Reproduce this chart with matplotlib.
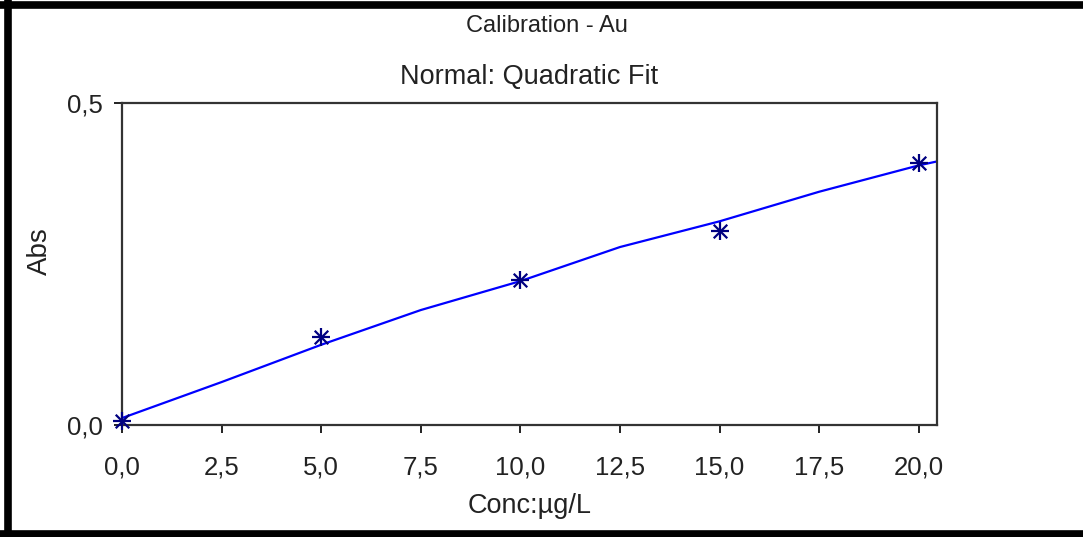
import matplotlib
matplotlib.use("Agg")
import matplotlib.pyplot as plt
from matplotlib.lines import Line2D

# Data
conc = [0.0, 5.0, 10.0, 15.0, 20.0]
absorb = [0.006, 0.136, 0.225, 0.301, 0.407]

fit_x = [0.0, 2.5, 5.0, 7.5, 10.0, 12.5, 15.0, 17.5, 20.0, 20.45]
fit_y = [0.010, 0.066, 0.124, 0.178, 0.223, 0.276, 0.316, 0.362, 0.403, 0.409]

x_ticks = [0.0, 2.5, 5.0, 7.5, 10.0, 12.5, 15.0, 17.5, 20.0]
x_tick_labels = ["0,0", "2,5", "5,0", "7,5", "10,0", "12,5", "15,0", "17,5", "20,0"]
y_ticks = [0.0, 0.5]
y_tick_labels = ["0,0", "0,5"]

FONT = "Liberation Sans"
TXT = "#222222"

fig = plt.figure(figsize=(10.83, 5.37), dpi=100)
W, H = 1083, 537
ax = fig.add_axes([122 / W, 1 - 424.5 / H, (936.7 - 122) / W, (424.5 - 103) / H])

ax.plot(fit_x, fit_y, color="#0000ff", lw=1.6, solid_capstyle="butt", zorder=2)
ax.scatter(conc, absorb, marker="+", s=150, color="#000080", linewidths=1.6, zorder=3, clip_on=False)
ax.scatter(conc, absorb, marker="x", s=95, color="#000080", linewidths=1.6, zorder=3, clip_on=False)

ax.set_xlim(0, 20.45)
ax.set_ylim(0, 0.5)
ax.set_xticks(x_ticks)
ax.set_xticklabels(x_tick_labels)
ax.set_yticks(y_ticks)
ax.set_yticklabels(y_tick_labels)

for sp in ax.spines.values():
    sp.set_color("#333333")
    sp.set_linewidth(1.6)

ax.tick_params(direction="out", length=5.5, width=1.4, colors=TXT, labelsize=18.5)
ax.tick_params(axis="x", pad=17)
ax.tick_params(axis="y", pad=8)
for lab in ax.get_xticklabels() + ax.get_yticklabels():
    lab.set_fontfamily(FONT)
    lab.set_color(TXT)

ax.set_xlabel("Conc:µg/L", fontsize=19.5, family=FONT, color=TXT)
ax.xaxis.label.set_va("center")
ax.xaxis.set_label_coords(0.5, (424.5 - 506) / 321.5)
ax.set_ylabel("Abs", fontsize=20, family=FONT, color=TXT)
ax.yaxis.label.set_va("center")
ax.yaxis.set_label_coords((40 - 122) / 814.7, (424.5 - 251) / 321.5)

fig.text(529 / W, 1 - 77 / H, "Normal: Quadratic Fit", ha="center", va="center",
         fontsize=19.5, family=FONT, color=TXT)
fig.text(546.5 / W, 1 - 26 / H, "Calibration - Au", ha="center", va="center",
         fontsize=17, family=FONT, color=TXT)

# Thick black frame (top, left, bottom)
fig.add_artist(Line2D([7.5 / W, 7.5 / W], [0, 1], transform=fig.transFigure, color="black", lw=5.5))
fig.add_artist(Line2D([0, 1], [1 - 5 / H, 1 - 5 / H], transform=fig.transFigure, color="black", lw=5.5))
fig.add_artist(Line2D([0, 1], [1 - 534 / H, 1 - 534 / H], transform=fig.transFigure, color="black", lw=5.5))

fig.savefig("out.png", dpi=100)
